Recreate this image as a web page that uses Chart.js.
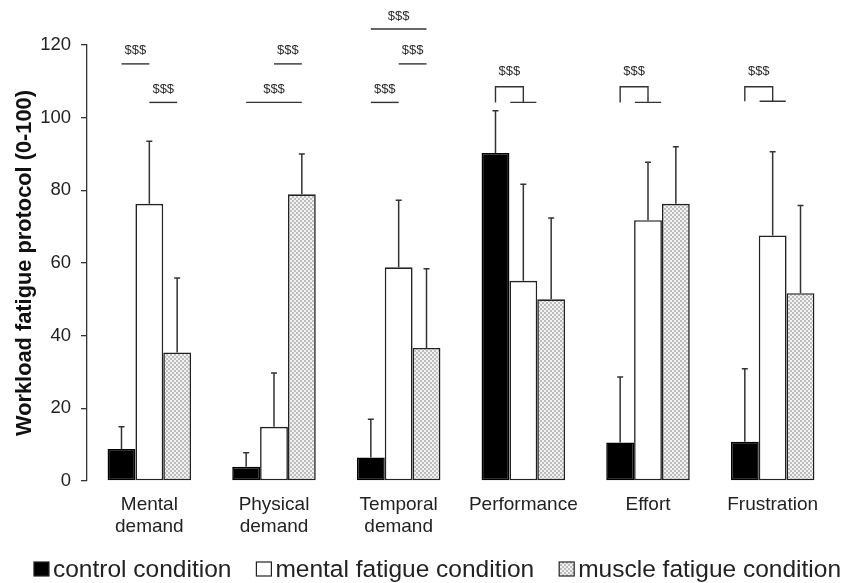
<!DOCTYPE html>
<html>
<head>
<meta charset="utf-8">
<script src="https://cdn.jsdelivr.net/npm/chart.js@4.4.0/dist/chart.umd.min.js"></script>
<style>
  html, body { margin: 0; padding: 0; background: #fff; }
  #wrap { width: 856px; height: 583px; }
</style>
</head>
<body>
<div id="wrap"><canvas id="canvas" width="856" height="583"></canvas></div>
<script>
// categories and values
var categories = [["Mental", "demand"], ["Physical", "demand"], ["Temporal", "demand"], "Performance", "Effort", "Frustration"];
var seriesNames = ["control condition", "mental fatigue condition", "muscle fatigue condition"];

var controlMean = [8.8, 3.9, 6.5, 90.3, 10.6, 10.8];
var controlSD   = [6.1, 3.9, 10.5, 11.6, 18.0, 20.1];
var mentalMean  = [76.3, 14.9, 58.8, 55.1, 71.8, 67.6];
var mentalSD    = [17.2, 14.8, 18.5, 26.6, 15.9, 23.0];
var muscleMean  = [35.4, 78.9, 36.6, 50.0, 76.3, 51.7];
var muscleSD    = [20.5, 11.1, 21.8, 22.4, 15.7, 24.1];

var yTicks = [0, 20, 40, 60, 80, 100, 120];

// significance marks: category index, bars joined, height (axis units)
var sigLines = [
  { cat: 0, from: 0, to: 1, at: 114.8 },
  { cat: 0, from: 1, to: 2, at: 104.2 },
  { cat: 1, from: 0, to: 2, at: 104.2 },
  { cat: 1, from: 1, to: 2, at: 114.8 },
  { cat: 2, from: 0, to: 2, at: 124.4 },
  { cat: 2, from: 1, to: 2, at: 114.8 },
  { cat: 2, from: 0, to: 1, at: 104.2 }
];
var sigBrackets = [
  { cat: 3, top: 108.5, base: 104.2 },
  { cat: 4, top: 108.5, base: 104.2 },
  { cat: 5, top: 108.5, base: 104.5 }
];
var sigLabel = "$$$";

var FONT = "'Liberation Sans', Arial, sans-serif";
var INK = "#222";

function makeChecker() {
  var c = document.createElement("canvas");
  c.width = 4; c.height = 4;
  var g = c.getContext("2d");
  g.fillStyle = "#f2f2f2";
  g.fillRect(0, 0, 4, 4);
  g.fillStyle = "#bdbdbd";
  g.fillRect(0, 0, 2, 2);
  g.fillRect(2, 2, 2, 2);
  return g.createPattern(c, "repeat");
}

var ctx = document.getElementById("canvas").getContext("2d");
var checker = makeChecker();

var sdList = [controlSD, mentalSD, muscleSD];

var errorBars = {
  id: "errorBars",
  afterDatasetsDraw: function(chart) {
    var c = chart.ctx, y = chart.scales.y;
    c.save();
    c.strokeStyle = "#333";
    c.lineWidth = 1.5;
    chart.data.datasets.forEach(function(ds, d) {
      var meta = chart.getDatasetMeta(d);
      meta.data.forEach(function(bar, i) {
        var top = y.getPixelForValue(ds.data[i] + sdList[d][i]);
        c.beginPath();
        c.moveTo(bar.x, bar.y);
        c.lineTo(bar.x, top);
        c.moveTo(bar.x - 3, top);
        c.lineTo(bar.x + 3, top);
        c.stroke();
      });
    });
    c.restore();
  }
};

var sigMarks = {
  id: "sigMarks",
  afterDraw: function(chart) {
    var c = chart.ctx, y = chart.scales.y;
    function bx(d, i) { return chart.getDatasetMeta(d).data[i].x; }
    c.save();
    c.strokeStyle = "#333";
    c.fillStyle = "#2a2a2a";
    c.lineWidth = 1.4;
    c.font = "13px " + FONT;
    c.textAlign = "center";
    c.textBaseline = "middle";
    sigLines.forEach(function(s) {
      var x1 = bx(s.from, s.cat), x2 = bx(s.to, s.cat), py = y.getPixelForValue(s.at);
      c.beginPath();
      c.moveTo(x1, py); c.lineTo(x2, py);
      c.stroke();
      c.fillText(sigLabel, (x1 + x2) / 2, py - 13);
    });
    sigBrackets.forEach(function(s) {
      var x0 = bx(0, s.cat), x1 = bx(1, s.cat);
      var half = chart.getDatasetMeta(1).data[s.cat].width * 0.47;
      var pt = y.getPixelForValue(s.top), pb = y.getPixelForValue(s.base);
      c.beginPath();
      c.moveTo(x0, pb); c.lineTo(x0, pt); c.lineTo(x1, pt); c.lineTo(x1, pb);
      c.moveTo(x1 - half, pb); c.lineTo(x1 + half, pb);
      c.stroke();
      c.fillText(sigLabel, (x0 + x1) / 2, pt - 15);
    });
    c.restore();
  }
};

// legend drawn by hand so the box/text gap matches the figure
var bottomLegend = {
  id: "bottomLegend",
  afterDraw: function(chart) {
    var c = chart.ctx;
    var box = 15, gap = 4, spacing = 25, cy = 569;
    c.save();
    c.font = "24.5px " + FONT;
    c.textBaseline = "middle";
    var widths = chart.data.datasets.map(function(ds) { return c.measureText(ds.label).width; });
    var total = widths.reduce(function(a, w) { return a + box + gap + w; }, 0) + spacing * (widths.length - 1);
    var x = 437.5 - total / 2;
    chart.data.datasets.forEach(function(ds, d) {
      c.fillStyle = ds.backgroundColor;
      c.fillRect(x, cy - 7, box, 14);
      c.strokeStyle = "#222";
      c.lineWidth = 1.2;
      c.strokeRect(x, cy - 7, box, 14);
      c.fillStyle = INK;
      c.fillText(ds.label, x + box + gap, cy + 1);
      x += box + gap + widths[d] + spacing;
    });
    c.restore();
  }
};

var barData = {
  labels: categories,
  datasets: [
    { label: seriesNames[0], data: controlMean, backgroundColor: "#000", borderColor: "#000" },
    { label: seriesNames[1], data: mentalMean, backgroundColor: "#fff", borderColor: "#222" },
    { label: seriesNames[2], data: muscleMean, backgroundColor: checker, borderColor: "#222" }
  ]
};

var chartOptions = {
  responsive: false,
  animation: false,
  devicePixelRatio: 1,
  layout: { padding: { left: 0, right: 21, top: 45, bottom: 42 } },
  datasets: {
    bar: { categoryPercentage: 0.67, barPercentage: 1.0, borderWidth: 1.6, borderSkipped: false }
  },
  plugins: {
    legend: { display: false },
    tooltip: { enabled: false }
  },
  scales: {
    x: {
      grid: { display: false },
      border: { display: false },
      ticks: { color: INK, font: { family: FONT, size: 19 }, padding: 4, maxRotation: 0 },
      afterFit: function(s) { s.height = 60; }
    },
    y: {
      min: 0, max: 120,
      afterBuildTicks: function(s) { s.ticks = yTicks.map(function(v) { return { value: v }; }); },
      grid: { drawOnChartArea: false, drawTicks: true, tickLength: 6, color: "#333", lineWidth: 1.3 },
      border: { display: true, color: "#333", width: 1.3 },
      ticks: { color: INK, font: { family: FONT, size: 18.5 }, padding: 10 },
      title: {
        display: true,
        text: "Workload fatigue protocol (0-100)",
        color: "#111",
        font: { family: FONT, size: 21.8, weight: "bold" },
        padding: { top: 12, bottom: 0 }
      },
      afterFit: function(s) { s.width = 87; }
    }
  }
};

window.myBar = new Chart(ctx, {
  type: "bar",
  data: barData,
  options: chartOptions,
  plugins: [errorBars, sigMarks, bottomLegend]
});
</script>
</body>
</html>
